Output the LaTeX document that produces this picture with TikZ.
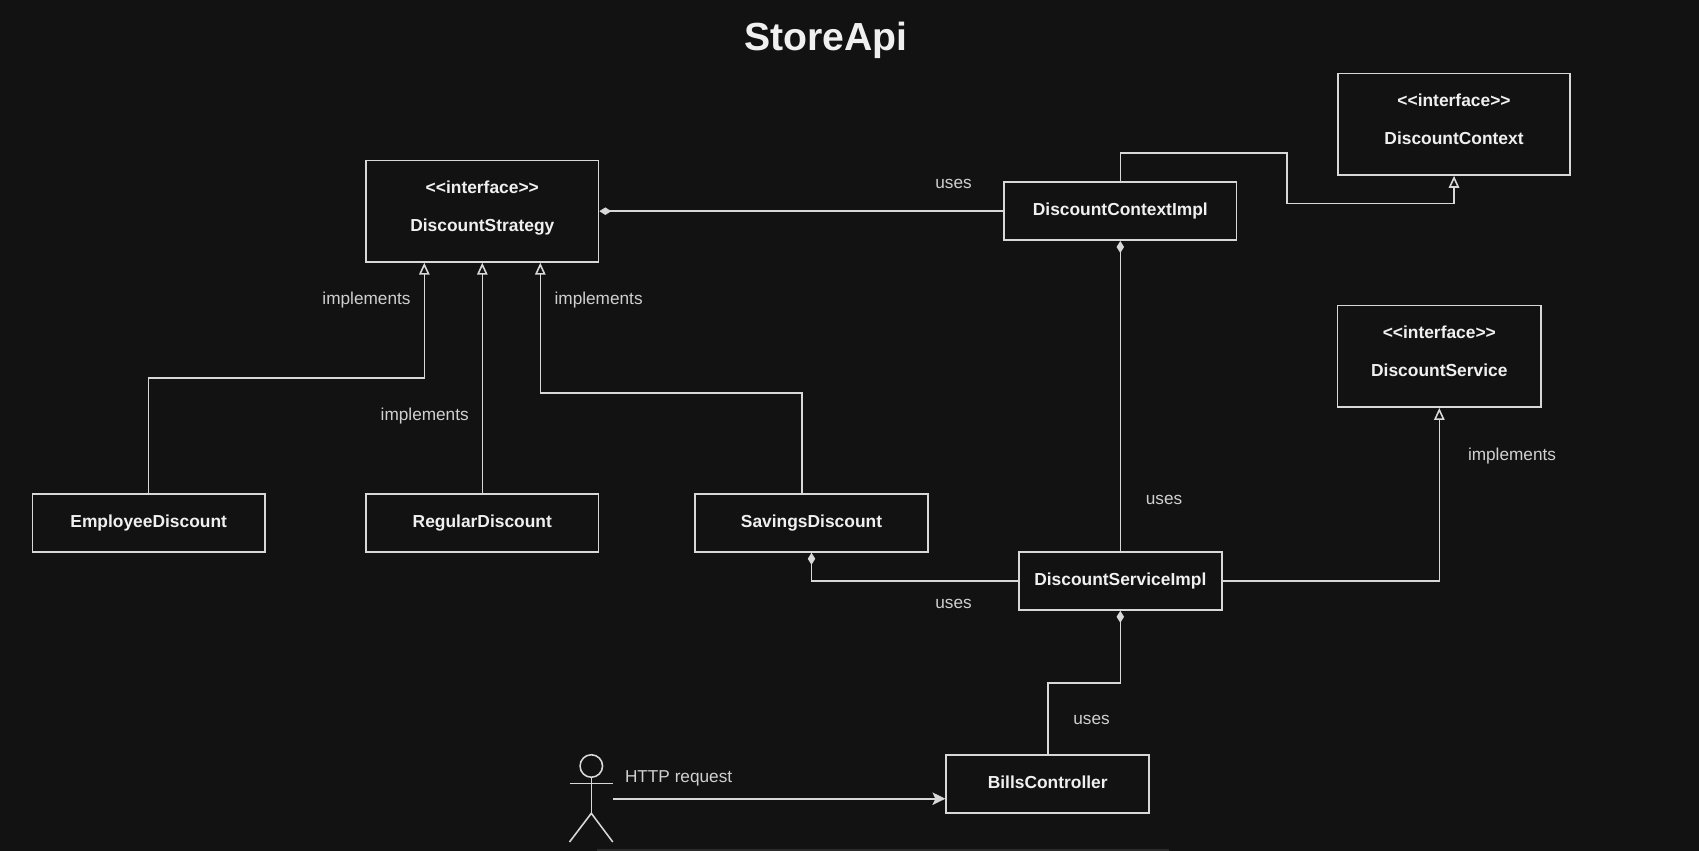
\documentclass[tikz,border=0pt]{standalone}
\usepackage{fontspec}
\setmainfont{Liberation Sans}
\usetikzlibrary{arrows.meta,calc}

\definecolor{canvas}{HTML}{121212}
\definecolor{strip}{HTML}{2A2A2A}
\definecolor{stroke}{HTML}{D8D8D8}
\definecolor{ink}{HTML}{F0F0F0}
\definecolor{soft}{HTML}{D0D0D0}

\newcommand{\stereotype}{{<}{<}interface{>}{>}}

\tikzset{
    classbox/.style={draw=stroke, line width=0.9pt, fill=canvas, text=ink, inner sep=0pt,
        font=\fontsize{9.9}{12}\bfseries\selectfont},
    plainbox/.style={classbox, minimum height=1.16cm, text height=7.2pt, text depth=2.1pt},
    wideplain/.style={plainbox, minimum width=4.65cm},
    narrowplain/.style={plainbox, minimum width=4.06cm},
    ifacebox/.style={classbox, align=center, minimum height=2.03cm, text depth=6pt},
    note/.style={text=soft, font=\fontsize{9.8}{12}\selectfont},
    link/.style={draw=stroke, line width=0.9pt},
    realizes/.style={link, -{Triangle[open, fill=canvas, length=0.24cm, width=0.21cm]}},
    uses/.style={link, -{Diamond[fill=stroke, length=0.24cm, width=0.15cm]}},
    request/.style={link, -{Stealth[length=0.26cm, width=0.25cm, inset=0.06cm]}}
}

\begin{document}
\begin{tikzpicture}[x=0.02cm, y=-0.02cm]
    \fill[canvas] (0,0) rectangle (1699,851);
    \useasboundingbox (0,0) rectangle (1699,851);
    \fill[strip] (597,849) rectangle (1169,851);

    \node[text=ink, font=\fontsize{22.3}{26}\bfseries\selectfont] (title) at (826,40) {StoreApi};

    \node[ifacebox, minimum width=4.65cm] (strategy) at (482.3,211.2) {\stereotype\\[9.8pt]DiscountStrategy};
    \node[ifacebox, minimum width=4.65cm] (context) at (1454,124.3) {\stereotype\\[9.8pt]DiscountContext};
    \node[ifacebox, minimum width=4.07cm] (service) at (1439.3,356.4) {\stereotype\\[9.8pt]DiscountService};

    \node[wideplain] (contextimpl) at (1120.3,211.2) {DiscountContextImpl};
    \node[wideplain] (employee) at (148.7,523) {EmployeeDiscount};
    \node[wideplain] (regular) at (482.3,523) {RegularDiscount};
    \node[wideplain] (savings) at (811.5,523) {SavingsDiscount};
    \node[narrowplain] (serviceimpl) at (1120.3,581) {DiscountServiceImpl};
    \node[narrowplain] (bills) at (1047.7,784) {BillsController};

    \coordinate (stratleft) at ($(strategy.south)+(-58,0)$);
    \coordinate (stratright) at ($(strategy.south)+(58,0)$);
    \coordinate (savingsport) at ($(savings.north)+(-9.7,0)$);

    \draw[realizes] (employee.north) -- ++(0,-115) -| (stratleft);
    \draw[realizes] (regular.north) -- (strategy.south);
    \draw[realizes] (savingsport) -- ++(0,-100.5) -| (stratright);
    \draw[uses] (contextimpl.west) -- (strategy.east);
    \draw[realizes] (contextimpl.north) -- ++(0,-28.7) -| ++(166.7,50.7) -| (context.south);
    \draw[uses] (serviceimpl.north) -- (contextimpl.south);
    \draw[realizes] (serviceimpl.east) -| (service.south);
    \draw[uses] (serviceimpl.west) -| (savings.south);
    \draw[uses] (bills.north) -- ++(0,-71.5) -| (serviceimpl.south);

    \node[note] (usesa) at (953.5,184) {uses};
    \node[note] (implleft) at (366.5,300) {implements};
    \node[note] (implright) at (598.6,300) {implements};
    \node[note] (implmid) at (424.7,416) {implements};
    \node[note] (implservice) at (1512,456) {implements};
    \node[note] (usesb) at (1164,500.4) {uses};
    \node[note] (usesc) at (953.5,604.4) {uses};
    \node[note] (usesd) at (1091.5,720.4) {uses};
    \node[note] (httplabel) at (678.6,778.6) {HTTP request};

    \node[draw=stroke, line width=0.9pt, circle, minimum size=0.45cm, inner sep=0pt] (head) at (591.3,766) {};
    \coordinate (armleft) at (569.5,783.3);
    \coordinate (armright) at (612.8,783.3);
    \coordinate (hip) at (591.3,813.3);
    \coordinate (footleft) at (569.5,842);
    \coordinate (footright) at (612.8,842);
    \coordinate (hand) at (612.8,798.7);
    \draw[link] (head.south) -- (hip);
    \draw[link] (armleft) -- (armright);
    \draw[link] (footleft) -- (hip) -- (footright);
    \draw[request] (hand) -- (hand -| bills.west);
\end{tikzpicture}
\end{document}
